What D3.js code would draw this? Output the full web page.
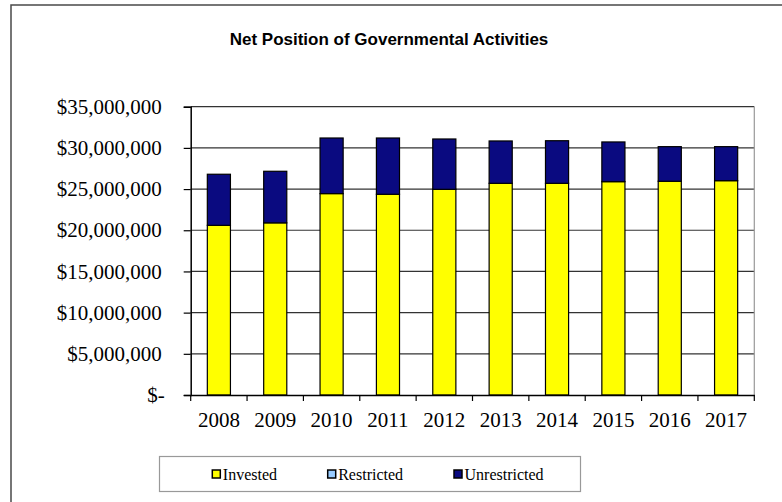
<!DOCTYPE html>
<html>
<head>
<meta charset="utf-8">
<script src="https://cdn.jsdelivr.net/npm/d3@7"></script>
<style>
    body { margin: 0; background: #fff; }
    svg { display: block; }
</style>
</head>
<body>
<div id="chart"></div>
<script>
const years = ["2008", "2009", "2010", "2011", "2012", "2013", "2014", "2015", "2016", "2017"];
const invested = [20600000, 20900000, 24450000, 24370000, 24970000, 25700000, 25700000, 25900000, 25950000, 26020000];
const restricted = [0, 0, 0, 0, 0, 0, 0, 0, 0, 0];
const unrestricted = [6200000, 6260000, 6750000, 6830000, 6110000, 5140000, 5170000, 4820000, 4200000, 4130000];
const yTicks = [0, 5000000, 10000000, 15000000, 20000000, 25000000, 30000000, 35000000];

const seriesKeys = ["Invested", "Restricted", "Unrestricted"];
const seriesColors = {Invested: "#ffff00", Restricted: "#99ccff", Unrestricted: "#0a0a80"};

const width = 782, height = 502;
const plot = {left: 190.7, right: 754.3, top: 106.7, bottom: 395};

const rows = years.map((y, i) => ({
    year: y,
    Invested: invested[i],
    Restricted: restricted[i],
    Unrestricted: unrestricted[i]
}));

const svg = d3.select("#chart").append("svg")
    .attr("width", width)
    .attr("height", height);

// chart frame
svg.append("rect")
    .attr("x", 11).attr("y", 5)
    .attr("width", 800).attr("height", 520)
    .attr("fill", "#fff")
    .attr("stroke", "#4a4a4a")
    .attr("stroke-width", 1.5);

svg.append("text")
    .attr("x", 389).attr("y", 45)
    .attr("text-anchor", "middle")
    .attr("font-family", "Liberation Sans, Arial, sans-serif")
    .attr("font-weight", "bold")
    .attr("font-size", 17)
    .text("Net Position of Governmental Activities");

const x = d3.scaleBand()
    .domain(years)
    .range([plot.left, plot.right])
    .paddingInner(0.59)
    .paddingOuter(0.295);

const y = d3.scaleLinear()
    .domain([0, 35000000])
    .range([plot.bottom, plot.top]);

// gridlines
svg.append("g")
    .selectAll("line")
    .data(yTicks.slice(1))
    .join("line")
    .attr("x1", plot.left).attr("x2", plot.right)
    .attr("y1", d => y(d)).attr("y2", d => y(d))
    .attr("stroke", "#333")
    .attr("stroke-width", 1.2);

// right border of plot area
svg.append("line")
    .attr("x1", plot.right).attr("x2", plot.right)
    .attr("y1", plot.top).attr("y2", plot.bottom)
    .attr("stroke", "#999")
    .attr("stroke-width", 1.2);

// stacked bars
const stacked = d3.stack().keys(seriesKeys)(rows);

svg.append("g")
    .selectAll("g")
    .data(stacked)
    .join("g")
    .attr("fill", d => seriesColors[d.key])
    .selectAll("rect")
    .data(d => d.filter(p => p[1] > p[0]))
    .join("rect")
    .attr("x", d => x(d.data.year))
    .attr("y", d => y(d[1]))
    .attr("width", x.bandwidth())
    .attr("height", d => y(d[0]) - y(d[1]))
    .attr("stroke", "#000")
    .attr("stroke-width", 1.2);

// y axis
const fmt = d3.format("$,");
const yAxis = svg.append("g")
    .attr("transform", `translate(${plot.left},0)`)
    .call(d3.axisLeft(y)
        .tickValues(yTicks)
        .tickSize(7)
        .tickPadding(22)
        .tickFormat(d => d === 0 ? "$-" : fmt(d)));
yAxis.select(".domain").attr("stroke", "#000").attr("stroke-width", 1.5);
yAxis.selectAll(".tick line").attr("stroke", "#000").attr("stroke-width", 1.2);
yAxis.selectAll(".tick text")
    .attr("font-family", "Liberation Serif, Times New Roman, serif")
    .attr("font-size", 21)
    .attr("fill", "#000")
    .attr("dx", d => d === 0 ? 3 : 0);

// x axis
const xAxis = svg.append("g")
    .attr("transform", `translate(0,${plot.bottom})`)
    .call(d3.axisBottom(x).tickSize(0).tickPadding(17));
xAxis.select(".domain").attr("stroke", "#000").attr("stroke-width", 1.5);
xAxis.selectAll(".tick text")
    .attr("font-family", "Liberation Serif, Times New Roman, serif")
    .attr("font-size", 21)
    .attr("fill", "#000");

const boundaries = d3.range(years.length + 1).map(i => plot.left + i * x.step());
xAxis.append("g")
    .selectAll("line")
    .data(boundaries)
    .join("line")
    .attr("x1", d => d).attr("x2", d => d)
    .attr("y1", 0).attr("y2", 6)
    .attr("stroke", "#000")
    .attr("stroke-width", 1.2);

// legend
const legend = svg.append("g");
legend.append("rect")
    .attr("x", 159.5).attr("y", 456.5)
    .attr("width", 421).attr("height", 35)
    .attr("fill", "#fff")
    .attr("stroke", "#999")
    .attr("stroke-width", 1.2);

const legendX = [212.3, 327.7, 454];
const item = legend.selectAll("g.item")
    .data(seriesKeys)
    .join("g")
    .attr("class", "item")
    .attr("transform", (d, i) => `translate(${legendX[i]},470)`);

item.append("rect")
    .attr("width", 8).attr("height", 8)
    .attr("fill", d => seriesColors[d])
    .attr("stroke", "#000")
    .attr("stroke-width", 1.5);

item.append("text")
    .attr("x", 10.5).attr("y", 9.5)
    .attr("font-family", "Liberation Serif, Times New Roman, serif")
    .attr("font-size", 16)
    .attr("fill", "#000")
    .text(d => d);
</script>
</body>
</html>
